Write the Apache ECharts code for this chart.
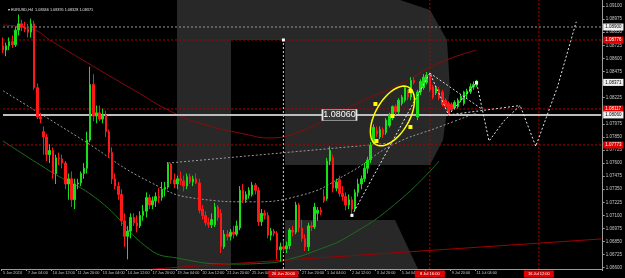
<!DOCTYPE html>
<html><head><meta charset="utf-8">
<script src="https://cdn.jsdelivr.net/npm/echarts@6/dist/echarts.min.js"></script>
<style>html,body{margin:0;padding:0;background:#000}#c{width:625px;height:278px}</style>
</head><body><div id="c"></div>
<script>
// x-axis tick labels, one every 8 H4 bars
const tickLabels = ['5 Jun 2024','7 Jun 04:00','10 Jun 12:00','11 Jun 20:00','13 Jun 04:00','14 Jun 12:00','17 Jun 20:00','19 Jun 04:00','20 Jun 12:00','21 Jun 20:00','25 Jun 04:00','26 Jun 12:00','27 Jun 20:00','1 Jul 04:00','2 Jul 12:00','3 Jul 20:00','5 Jul 04:00','8 Jul 12:00','9 Jul 20:00','11 Jul 04:00'];
const priceTicks = [1.06600,1.06725,1.06850,1.06975,1.07100,1.07225,1.07350,1.07475,1.07600,1.07725,1.07850,1.07975,1.08100,1.08225,1.08350,1.08475,1.08600,1.08725,1.08850,1.08975,1.09100];
// candles: [open, high, low, close]
const ohlc = [
[1.0872,1.0880,1.0865,1.0868],
[1.0868,1.0875,1.0862,1.0872],[1.0872,1.0880,1.0868,1.0876],[1.0876,1.0882,1.0870,1.0873],[1.0873,1.0890,1.0871,1.0887],[1.0887,1.0902,1.0882,1.0893],[1.0893,1.0897,1.0886,1.0890],
[1.0890,1.0895,1.0885,1.0888],[1.0888,1.0893,1.0880,1.0885],[1.0885,1.0898,1.0880,1.0893],[1.0893,1.0896,1.0830,1.0832],[1.0832,1.0836,1.0802,1.0804],[1.0804,1.0808,1.0798,1.0802],
[1.0790,1.0795,1.0768,1.0785],[1.0785,1.0788,1.0762,1.0768],[1.0768,1.0778,1.0760,1.0772],[1.0772,1.0775,1.0745,1.0750],[1.0750,1.0768,1.0740,1.0765],[1.0765,1.0770,1.0758,1.0764],
[1.0764,1.0768,1.0755,1.0760],[1.0760,1.0762,1.0735,1.0740],[1.0740,1.0750,1.0725,1.0745],[1.0745,1.0752,1.0718,1.0725],[1.0725,1.0745,1.0716,1.0740],[1.0740,1.0745,1.0735,1.0741],
[1.0741,1.0752,1.0738,1.0750],[1.0750,1.0760,1.0745,1.0755],[1.0755,1.0790,1.0750,1.0782],[1.0782,1.0852,1.0780,1.0835],[1.0835,1.0845,1.0800,1.0805],[1.0805,1.0815,1.0798,1.0808],
[1.0808,1.0815,1.0800,1.0802],[1.0802,1.0812,1.0798,1.0806],[1.0806,1.0810,1.0785,1.0790],[1.0790,1.0792,1.0765,1.0770],[1.0770,1.0775,1.0740,1.0745],[1.0745,1.0750,1.0735,1.0738],
[1.0738,1.0742,1.0725,1.0730],[1.0730,1.0735,1.0700,1.0705],[1.0705,1.0712,1.0680,1.0690],[1.0690,1.0700,1.0668,1.0695],[1.0695,1.0712,1.0688,1.0708],[1.0708,1.0712,1.0700,1.0703],
[1.0703,1.0710,1.0694,1.0700],[1.0700,1.0714,1.0698,1.0710],[1.0710,1.0720,1.0705,1.0714],[1.0714,1.0732,1.0708,1.0727],[1.0727,1.0730,1.0716,1.0720],[1.0720,1.0728,1.0716,1.0724],
[1.0724,1.0732,1.0718,1.0728],[1.0728,1.0736,1.0722,1.0727],[1.0727,1.0742,1.0724,1.0735],[1.0735,1.0742,1.0728,1.0737],[1.0737,1.0761,1.0735,1.0759],[1.0759,1.0760,1.0740,1.0744],
[1.0744,1.0750,1.0736,1.0740],[1.0740,1.0748,1.0735,1.0745],[1.0745,1.0752,1.0739,1.0743],[1.0743,1.0748,1.0733,1.0738],[1.0738,1.0750,1.0735,1.0747],[1.0747,1.0750,1.0740,1.0742],
[1.0742,1.0748,1.0738,1.0745],[1.0745,1.0750,1.0740,1.0741],[1.0741,1.0745,1.0712,1.0715],[1.0716,1.0720,1.0706,1.0710],[1.0710,1.0714,1.0700,1.0703],[1.0703,1.0708,1.0698,1.0701],
[1.0701,1.0712,1.0698,1.0706],[1.0701,1.0722,1.0699,1.0718],[1.0718,1.0720,1.0705,1.0708],[1.0712,1.0716,1.0674,1.0680],[1.0680,1.0696,1.0678,1.0692],[1.0692,1.0696,1.0686,1.0690],
[1.0690,1.0697,1.0686,1.0694],[1.0694,1.0700,1.0688,1.0692],[1.0692,1.0705,1.0690,1.0700],[1.0698,1.0738,1.0696,1.0734],[1.0734,1.0740,1.0722,1.0725],[1.0725,1.0733,1.0722,1.0730],
[1.0729,1.0737,1.0726,1.0734],[1.0730,1.0742,1.0728,1.0739],[1.0739,1.0741,1.0730,1.0734],[1.0734,1.0737,1.0700,1.0704],[1.0704,1.0716,1.0700,1.0712],[1.0712,1.0715,1.0706,1.0710],
[1.0710,1.0713,1.0688,1.0691],[1.0691,1.0698,1.0686,1.0695],[1.0695,1.0697,1.0690,1.0693],[1.0693,1.0695,1.0668,1.0677],[1.0677,1.0684,1.0666,1.0680],[1.0680,1.0686,1.0675,1.0678],
[1.0678,1.0685,1.0674,1.0681],[1.0681,1.0698,1.0678,1.0696],[1.0696,1.0700,1.0690,1.0694],[1.0694,1.0723,1.0692,1.0720],[1.0720,1.0722,1.0694,1.0698],[1.0698,1.0706,1.0685,1.0688],
[1.0688,1.0692,1.0676,1.0680],[1.0680,1.0703,1.0676,1.0700],[1.0700,1.0704,1.0695,1.0699],[1.0699,1.0722,1.0697,1.0718],[1.0712,1.0718,1.0705,1.0715],[1.0715,1.0718,1.0710,1.0713],
[1.0728,1.0735,1.0722,1.0724],[1.0726,1.0765,1.0724,1.0762],[1.0762,1.0776,1.0758,1.0772],[1.0765,1.0768,1.0732,1.0736],[1.0736,1.0745,1.0733,1.0742],[1.0744,1.0748,1.0728,1.0731],
[1.0731,1.0738,1.0724,1.0728],[1.0728,1.0732,1.0715,1.0720],[1.0720,1.0730,1.0716,1.0725],[1.0725,1.0728,1.0710,1.0716],[1.0716,1.0735,1.0714,1.0732],[1.0732,1.0745,1.0728,1.0740],
[1.0740,1.0748,1.0735,1.0745],[1.0745,1.0760,1.0742,1.0755],[1.0755,1.0766,1.0750,1.0763],[1.0763,1.0780,1.0760,1.0777],[1.0780,1.0797,1.0778,1.0794],[1.0791,1.0795,1.0785,1.0788],
[1.0785,1.0795,1.0783,1.0792],[1.0792,1.0794,1.0784,1.0787],[1.0789,1.0803,1.0787,1.0801],[1.0796,1.0808,1.0794,1.0806],[1.0803,1.0815,1.0801,1.0814],[1.0814,1.0816,1.0806,1.0809],
[1.0809,1.0822,1.0807,1.0820],[1.0817,1.0825,1.0815,1.0823],[1.0820,1.0834,1.0818,1.0832],[1.0828,1.0830,1.0820,1.0823],[1.0823,1.0842,1.0820,1.0839],[1.0839,1.0842,1.0835,1.0837],
[1.0804,1.0830,1.0801,1.0828],[1.0828,1.0840,1.0825,1.0838],[1.0832,1.0845,1.0830,1.0842],[1.0837,1.0847,1.0835,1.0844],[1.0844,1.0846,1.0828,1.0830],[1.0833,1.0835,1.0821,1.0823],
[1.0827,1.0834,1.0825,1.0832],[1.0830,1.0833,1.0820,1.0822],[1.0828,1.0830,1.0814,1.0816],[1.0820,1.0822,1.0812,1.0814],[1.0817,1.0819,1.0805,1.0808],[1.0816,1.0818,1.0809,1.0811],
[1.0813,1.0820,1.0811,1.0818],[1.0814,1.0822,1.0812,1.0820],[1.0820,1.0826,1.0818,1.0824],[1.0817,1.0829,1.0815,1.0828],[1.0826,1.0831,1.0822,1.0829],[1.0828,1.0836,1.0826,1.0833],
[1.0833,1.0838,1.0830,1.0835],[1.08346,1.08395,1.08328,1.08371]
];
const futureSlots = 40;
// moving averages: [bar, price]
const redMA = [[0,1.08919],[10,1.08872],[15,1.08776],[31,1.08489],[42,1.08298],[53,1.08107],[63,1.07983],[79,1.07868],[85,1.07840],[95,1.07897],[105,1.08040],[116,1.08203],[127,1.08346],[140,1.08556],[152,1.08680]];
const greenMA = [[0,1.07811],[15,1.07525],[31,1.07238],[47,1.06778],[56,1.06692],[73,1.06635],[85,1.06645],[92,1.06683],[100,1.06759],[111,1.06903],[127,1.07237],[140,1.07620]];
const grayMA = [[0,1.08291],[25,1.07832],[47,1.07421],[63,1.07258],[79,1.07230],[95,1.07287],[111,1.07505],[125,1.07773],[140,1.07945],[152,1.08078]];
// drawn lines [bar, price]
const wavePath = [[112,1.0710],[137,1.0846],[143,1.0806],[152,1.08371],[156,1.0781],[161,1.0801],[166,1.0815],[171,1.0776],[178,1.0833],[184,1.0895]];
const wedgeUpper = [[137,1.0846],[154,1.0811]];
const wedgeLower = [[143,1.0806],[166,1.0815]];
const trendGray = [[53,1.07600],[125,1.07792]];
const redTrend = [[48,1.06588],[192,1.06875]];
// horizontal levels and their axis tags
const levels = [
  {price: 1.08900, tag: '1.08900', kind: 'gray'},
  {price: 1.08776, tag: '1.08776', kind: 'red'},
  {price: 1.08117, tag: '1.08117', kind: 'red'},
  {price: 1.08060, tag: '1.08060', kind: 'main'},
  {price: 1.07773, tag: '1.07773', kind: 'red'}
];
const lastPrice = 1.08371;
// vertical lines: [bar, tag, colour kind, top price]
const verticals = [[90, '26 Jun 20:00', 'white', 1.08776], [137, '8 Jul 16:00', 'red', 1.09158], [172, '16 Jul 12:00', 'red', 1.09158]];

const Y_MIN = 1.06588, Y_MAX = 1.09158;
const N = ohlc.length + futureSlots;
const cats = [];
for (let i = 0; i < N; i++) cats.push(i % 8 === 0 && i / 8 < tickLabels.length ? tickLabels[i / 8] : '');
const candleData = ohlc.map(r => [r[0], r[3], r[2], r[1]]);

const chart = echarts.init(document.getElementById('c'), null, {renderer: 'canvas'});
const FONT = 'Liberation Sans';
function dotted(color, w) { return {color: color, width: w || 1, type: [2, 2]}; }

const series = [
  {type: 'line', data: grayMA, smooth: true, symbol: 'none', lineStyle: dotted('#9a9a9a'), z: 2},
  {type: 'line', data: trendGray, symbol: 'none', lineStyle: dotted('#9a9a9a'), z: 2},
  {type: 'line', data: redMA, smooth: true, symbol: 'none', lineStyle: {color: '#8b0a0a', width: 1}, z: 2},
  {type: 'line', data: greenMA, smooth: true, symbol: 'none', lineStyle: {color: '#1d6e1d', width: 1}, z: 2},
  {type: 'line', data: redTrend, symbol: 'none', lineStyle: {color: '#a00000', width: 1}, z: 2}
];
levels.forEach(l => {
  const isRed = l.kind === 'red', isMain = l.kind === 'main';
  series.push({type: 'line', data: [[0, l.price], [N - 1, l.price]], symbol: 'none', z: isMain ? 4 : 3,
    lineStyle: isMain ? {color: '#bdbdbd', width: 2} : dotted(isRed ? '#b00000' : '#9a9a9a'),
    endLabel: {show: true, formatter: l.tag, distance: 2, fontSize: 4.5, fontFamily: FONT, padding: [1, 2],
      color: isRed ? '#fff' : '#000', backgroundColor: isRed ? '#e00000' : '#f0f0f0'}});
});
// current price tag
series.push({type: 'line', data: [[N - 1, lastPrice]], symbol: 'none', lineStyle: {opacity: 0},
  endLabel: {show: true, formatter: '1.08371', distance: 2, fontSize: 4.5, fontFamily: FONT, padding: [1, 2], color: '#000', backgroundColor: '#f0f0f0'}});
verticals.forEach(v => {
  const red = v[2] === 'red';
  series.push({type: 'line', data: [[v[0], Y_MIN], [v[0], v[3]]], symbol: 'none', z: 3,
    lineStyle: dotted(red ? '#b00000' : '#d0d0d0'),
    markPoint: {silent: true, data: [
      {coord: [v[0], Y_MIN], symbol: 'rect', symbolSize: [30, 7], symbolOffset: [0, 5], itemStyle: {color: '#e00000'},
       label: {show: true, position: 'inside', formatter: v[1], color: '#fff', fontSize: 4, fontFamily: FONT}}
    ].concat(red ? [] : [{coord: [v[0], v[3]], symbol: 'rect', symbolSize: 3, itemStyle: {color: '#fff'}, label: {show: false}}])}
  });
});
series.push({type: 'candlestick', data: candleData, barWidth: 2, z: 5,
  itemStyle: {color: '#18e018', color0: '#ff1818', borderColor: '#18e018', borderColor0: '#ff1818', borderWidth: 1},
  markPoint: {silent: true, data: [
    {coord: [108, 1.08060], symbol: 'rect', symbolSize: [34, 11], itemStyle: {color: '#3a3a3a', borderColor: '#e8e8e8', borderWidth: 1},
     label: {show: true, position: 'inside', formatter: '1.08060', color: '#fff', fontSize: 9, fontFamily: FONT}}
  ]}
});
series.push({type: 'line', data: wedgeUpper, symbol: 'none', lineStyle: dotted('#d8d8d8'), z: 6});
series.push({type: 'line', data: wedgeLower, symbol: 'none', lineStyle: dotted('#d8d8d8'), z: 6});
series.push({type: 'line', data: wavePath, symbol: 'rect', symbolSize: 3, itemStyle: {color: '#fff'}, lineStyle: dotted('#e8e8e8'), z: 6});

chart.setOption({
  backgroundColor: '#000',
  animation: false,
  title: {text: '\u25BE EURUSD,H4  1.08346 1.08395 1.08328 1.08371', left: 3, top: 3,
    textStyle: {color: '#e0e0e0', fontSize: 3.8, fontWeight: 'normal', fontFamily: FONT}},
  grid: {left: 0, right: 19, top: 0, bottom: 9, containLabel: false},
  xAxis: {type: 'category', data: cats, boundaryGap: true,
    axisLine: {lineStyle: {color: '#9a9a9a'}},
    axisTick: {show: true, length: 2, lineStyle: {color: '#9a9a9a'}, interval: i => cats[i] !== ''},
    axisLabel: {interval: i => cats[i] !== '', align: 'left', margin: 2, showMinLabel: true, color: '#c8c8c8', fontSize: 3.8, fontFamily: FONT},
    splitLine: {show: false}},
  yAxis: {type: 'value', position: 'right', min: Y_MIN, max: Y_MAX,
    axisLine: {show: true, lineStyle: {color: '#9a9a9a'}},
    axisTick: {show: true, length: 2, customValues: priceTicks, lineStyle: {color: '#9a9a9a'}},
    axisLabel: {customValues: priceTicks, margin: 3, formatter: v => v.toFixed(5), color: '#c8c8c8', fontSize: 4.5, fontFamily: FONT},
    splitLine: {show: false}},
  series: series
});

// watermark + ellipse drawing object anchored on data coordinates
const c = chart.convertToPixel({gridIndex: 0}, [125, 1.0805]);
const pts = [];
const a = 33, b = 17, rot = 0.52;
for (let k = 0; k < 64; k++) {
  const t = k / 64 * Math.PI * 2;
  const ex = b * Math.cos(t), ey = a * Math.sin(t);
  pts.push([c[0] + ex * Math.cos(rot) - ey * Math.sin(rot), c[1] + ex * Math.sin(rot) + ey * Math.cos(rot)]);
}
const handles = [[-17, -12], [0, 0], [18, -25], [18, 11], [-16, 25]].map(o => ({
  type: 'rect', z: 21, silent: true, shape: {x: c[0] + o[0] - 2, y: c[1] + o[1] - 2, width: 4, height: 4}, style: {fill: '#ffff00'}}));
chart.setOption({graphic: [
  {type: 'rect', z: -10, silent: true, shape: {x: 177, y: 0, width: 54, height: 269}, style: {fill: '#282828'}},
  {type: 'polygon', z: -10, silent: true, shape: {points: [[231,0],[400,0],[430,10],[447,40],[450,90],[443,140],[430,165],[285,165],[285,40],[231,40]]}, style: {fill: '#282828'}},
  {type: 'polygon', z: -10, silent: true, shape: {points: [[285,220],[395,220],[418,269],[285,269]]}, style: {fill: '#282828'}},
  {type: 'polygon', z: 20, silent: true, shape: {points: pts}, style: {fill: 'none', stroke: '#ffff00', lineWidth: 1.5}}
].concat(handles)});
</script>
</body></html>
